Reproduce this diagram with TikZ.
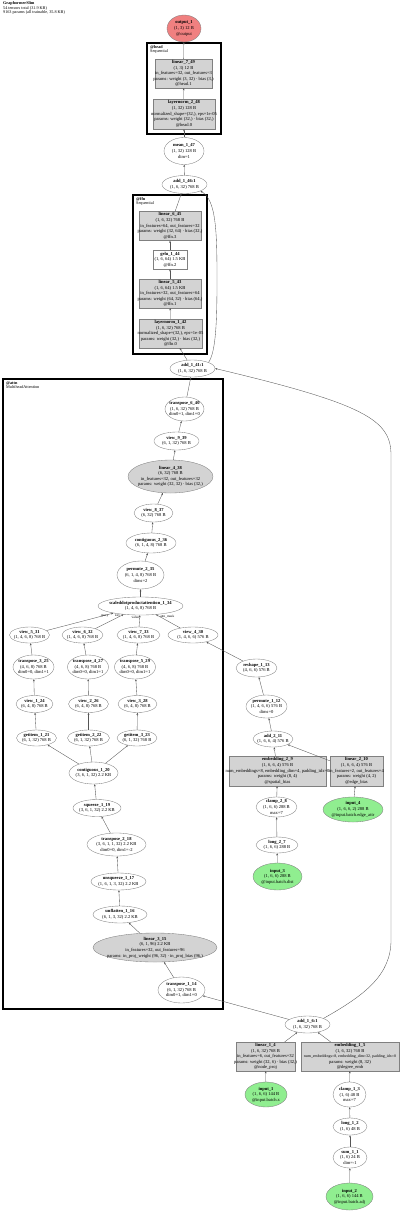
\documentclass[tikz,border=0pt]{standalone}
\usepackage{fontspec}
\setmainfont{Liberation Serif}
\usetikzlibrary{arrows.meta,shapes.geometric}
\definecolor{opgray}{HTML}{D3D3D3}
\definecolor{ingreen}{HTML}{90EE90}
\definecolor{outred}{HTML}{F08080}
\definecolor{edgegray}{HTML}{555555}
\begin{document}
\begin{tikzpicture}[x=1pt, y=-1pt,
  nodetext/.style={font=\fontsize{4.55}{5.6}\selectfont, align=center, inner sep=0pt},
  txt/.style={label={[nodetext]center:{#1}}},
  ell/.style={draw=gray, ellipse, inner sep=0pt, line width=0.35pt},
  opbox/.style={draw=gray, fill=opgray, inner sep=0pt, line width=0.35pt},
  plainbox/.style={draw=gray, inner sep=0pt, line width=0.35pt},
  gell/.style={ell, fill=opgray},
  inell/.style={ell, fill=ingreen},
  outell/.style={ell, fill=outred},
  grp/.style={draw=black, line width=1.3pt},
  grplbl/.style={font=\fontsize{4.2}{4.5}\selectfont, align=left, anchor=north west, inner sep=0pt},
  elbl/.style={font=\fontsize{3.4}{3.8}\selectfont, inner sep=0.5pt},
  arr/.style={-{Stealth[length=2.2pt,width=1.8pt]}, draw=edgegray, line width=0.35pt},
]
\useasboundingbox (0,0) rectangle (400,1211);

\node[grplbl] (title) at (3,1.5) {\textbf{GraphormerSlim}\\54 tensors total (31.9 KB)\\9163 params (all trainable, 35.8 KB)};

% module boxes
\draw[grp] (147,43) rectangle (221,134);
\node[grplbl] (headlbl) at (150,45) {\textbf{@head}\\Sequential};
\draw[grp] (133,195) rectangle (207,354);
\node[grplbl] (ffnlbl) at (136,197) {\textbf{@ffn}\\Sequential};
\draw[grp] (3,379) rectangle (223,1009);
\node[grplbl] (attnlbl) at (6,381) {\textbf{@attn}\\MultiheadAttention};

% head
\node[outell, minimum width=34, minimum height=27, txt={\textbf{output\_1}\\(1, 3) 12 B\\@output}] (out1) at (184,28.5) {};
\node[opbox, minimum width=57, minimum height=29, txt={\textbf{linear\_7\_49}\\(1, 3) 12 B\\in\_features=32, out\_features=3\\params: weight (3, 32) · bias (3,)\\@head.1}] (lin749) at (183.5,73.5) {};
\node[opbox, minimum width=62, minimum height=30, txt={\textbf{layernorm\_2\_48}\\(1, 32) 128 B\\normalized\_shape=(32,), eps=1e-05\\params: weight (32,) · bias (32,)\\@head.0}] (ln248) at (184,114) {};
\node[ell, minimum width=40, minimum height=27, txt={\textbf{mean\_1\_47}\\(1, 32) 128 B\\dim=1}] (mean147) at (184,151) {};
\node[ell, minimum width=45, minimum height=18, txt={\textbf{add\_1\_46:1}\\(1, 6, 32) 768 B}] (add146) at (184.5,184.5) {};

% ffn
\node[opbox, minimum width=62, minimum height=29, txt={\textbf{linear\_6\_45}\\(1, 6, 32) 768 B\\in\_features=64, out\_features=32\\params: weight (32, 64) · bias (32,)\\@ffn.3}] (lin645) at (170,226) {};
\node[plainbox, minimum width=34, minimum height=19, txt={\textbf{gelu\_1\_44}\\(1, 6, 64) 1.5 KB\\@ffn.2}] (gelu144) at (170,259.5) {};
\node[opbox, minimum width=62, minimum height=29, txt={\textbf{linear\_5\_43}\\(1, 6, 64) 1.5 KB\\in\_features=32, out\_features=64\\params: weight (64, 32) · bias (64,)\\@ffn.1}] (lin543) at (170,293.5) {};
\node[opbox, minimum width=63, minimum height=29, txt={\textbf{layernorm\_1\_42}\\(1, 6, 32) 768 B\\normalized\_shape=(32,), eps=1e-05\\params: weight (32,) · bias (32,)\\@ffn.0}] (ln142) at (170.5,333.5) {};
\node[ell, minimum width=45, minimum height=17, txt={\textbf{add\_1\_41:1}\\(1, 6, 32) 768 B}] (add141) at (192.5,368.5) {};

% attention
\node[ell, minimum width=39, minimum height=24, txt={\textbf{transpose\_6\_40}\\(1, 6, 32) 768 B\\dim0=1, dim1=0}] (tr640) at (184.5,409) {};
\node[ell, minimum width=45, minimum height=18, txt={\textbf{view\_9\_39}\\(6, 1, 32) 768 B}] (v939) at (176.5,441) {};
\node[gell, minimum width=85, minimum height=33, txt={\textbf{linear\_4\_38}\\(6, 32) 768 B\\in\_features=32, out\_features=32\\params: weight (32, 32) · bias (32,)}] (lin438) at (170.5,476.5) {};
\node[ell, minimum width=39, minimum height=18, txt={\textbf{view\_8\_37}\\(6, 32) 768 B}] (v837) at (153.5,513) {};
\node[ell, minimum width=50, minimum height=20, txt={\textbf{contiguous\_2\_36}\\(6, 1, 4, 8) 768 B}] (cont236) at (151,543) {};
\node[ell, minimum width=47, minimum height=28, txt={\textbf{permute\_2\_35}\\(6, 1, 4, 8) 768 B\\dims=2}] (perm235) at (140.5,575) {};
\node[ell, minimum width=85, minimum height=18, txt={\textbf{scaleddotproductattention\_1\_34}\\(1, 4, 6, 8) 768 B}] (sdpa) at (140.5,606) {};
\node[ell, minimum width=40, minimum height=16, txt={\textbf{view\_5\_31}\\(1, 4, 6, 8) 768 B}] (v531) at (29.5,635) {};
\node[ell, minimum width=41, minimum height=16, txt={\textbf{view\_6\_32}\\(1, 4, 6, 8) 768 B}] (v632) at (82.5,635) {};
\node[ell, minimum width=43, minimum height=16, txt={\textbf{view\_7\_33}\\(1, 4, 6, 8) 768 B}] (v733) at (138.5,635) {};
\node[ell, minimum width=50, minimum height=16, txt={\textbf{view\_4\_30}\\(1, 4, 6, 6) 576 B}] (v430) at (193,635) {};
\node[ell, minimum width=41, minimum height=24, txt={\textbf{transpose\_3\_25}\\(4, 6, 8) 768 B\\dim0=0, dim1=1}] (tr325) at (33.5,667) {};
\node[ell, minimum width=41, minimum height=24, txt={\textbf{transpose\_4\_27}\\(4, 6, 8) 768 B\\dim0=0, dim1=1}] (tr427) at (88,667) {};
\node[ell, minimum width=41, minimum height=24, txt={\textbf{transpose\_5\_29}\\(4, 6, 8) 768 B\\dim0=0, dim1=1}] (tr529) at (135,667) {};
\node[ell, minimum width=37, minimum height=17, txt={\textbf{view\_1\_24}\\(6, 4, 8) 768 B}] (v124) at (34.5,704) {};
\node[ell, minimum width=40, minimum height=17, txt={\textbf{view\_2\_26}\\(6, 4, 8) 768 B}] (v226) at (88.5,704) {};
\node[ell, minimum width=39, minimum height=17, txt={\textbf{view\_3\_28}\\(6, 4, 8) 768 B}] (v328) at (137.5,704) {};
\node[ell, minimum width=40, minimum height=16, txt={\textbf{getitem\_1\_21}\\(6, 1, 32) 768 B}] (gi121) at (36.5,738) {};
\node[ell, minimum width=42, minimum height=16, txt={\textbf{getitem\_2\_22}\\(6, 1, 32) 768 B}] (gi222) at (88.5,738) {};
\node[ell, minimum width=40, minimum height=16, txt={\textbf{getitem\_3\_23}\\(6, 1, 32) 768 B}] (gi323) at (137,738) {};
\node[ell, minimum width=49, minimum height=22, txt={\textbf{contiguous\_1\_20}\\(3, 6, 1, 32) 2.2 KB}] (cont120) at (93.5,773) {};
\node[ell, minimum width=48, minimum height=17, txt={\textbf{squeeze\_1\_19}\\(3, 6, 1, 32) 2.2 KB}] (sq119) at (97,808) {};
\node[ell, minimum width=59, minimum height=23, txt={\textbf{transpose\_2\_18}\\(3, 6, 1, 1, 32) 2.2 KB\\dim0=0, dim1=-2}] (tr218) at (116.5,844.5) {};
\node[ell, minimum width=55, minimum height=17, txt={\textbf{unsqueeze\_1\_17}\\(1, 6, 1, 3, 32) 2.2 KB}] (unsq117) at (118.5,881.5) {};
\node[ell, minimum width=54, minimum height=17, txt={\textbf{unflatten\_1\_16}\\(6, 1, 3, 32) 2.2 KB}] (unfl116) at (120,914.5) {};
\node[gell, minimum width=124, minimum height=29, txt={\textbf{linear\_3\_15}\\(6, 1, 96) 2.2 KB\\in\_features=32, out\_features=96\\params: in\_proj\_weight (96, 32) · in\_proj\_bias (96,)}] (lin315) at (155,947.5) {};
\node[ell, minimum width=47, minimum height=26, txt={\textbf{transpose\_1\_14}\\(6, 1, 32) 768 B\\dim0=1, dim1=0}] (tr114) at (181.5,990) {};

% attention bias
\node[ell, minimum width=41, minimum height=18, txt={\textbf{reshape\_1\_13}\\(4, 6, 6) 576 B}] (resh113) at (256.5,668) {};
\node[ell, minimum width=41, minimum height=23, txt={\textbf{permute\_1\_12}\\(1, 4, 6, 6) 576 B\\dims=0}] (perm112) at (266.5,706.5) {};
\node[ell, minimum width=40, minimum height=16, txt={\textbf{add\_2\_11}\\(1, 6, 6, 4) 576 B}] (add211) at (273,739) {};
\node[opbox, minimum width=97, minimum height=30, txt={\textbf{embedding\_2\_9}\\(1, 6, 6, 4) 576 B\\num\_embeddings=8, embedding\_dim=4, padding\_idx=0\\params: weight (8, 4)\\@spatial\_bias}] (emb29) at (277.5,771) {};
\node[opbox, minimum width=53, minimum height=30, txt={\textbf{linear\_2\_10}\\(1, 6, 6, 4) 576 B\\in\_features=2, out\_features=4\\params: weight (4, 2)\\@edge\_bias}] (lin210) at (356.5,771) {};
\node[ell, minimum width=41, minimum height=20, txt={\textbf{clamp\_2\_8}\\(1, 6, 6) 288 B\\max=7}] (clamp28) at (276.5,807) {};
\node[inell, minimum width=60, minimum height=25, txt={\textbf{input\_4}\\(1, 6, 6, 2) 288 B\\@input.batch.edge\_attr}] (in4) at (353,809.5) {};
\node[ell, minimum width=42, minimum height=16, txt={\textbf{long\_2\_7}\\(1, 6, 6) 288 B}] (long27) at (277,845) {};
\node[inell, minimum width=49, minimum height=27, txt={\textbf{input\_3}\\(1, 6, 6) 288 B\\@input.batch.dist}] (in3) at (277.5,876.5) {};

% embeddings
\node[ell, minimum width=45, minimum height=17, txt={\textbf{add\_1\_6:1}\\(1, 6, 32) 768 B}] (add16) at (307.5,1024.5) {};
\node[opbox, minimum width=59, minimum height=29, txt={\textbf{linear\_1\_4}\\(1, 6, 32) 768 B\\in\_features=6, out\_features=32\\params: weight (32, 6) · bias (32,)\\@node\_proj}] (lin14) at (265.5,1056.5) {};
\node[opbox, minimum width=98, minimum height=29, txt={\textbf{embedding\_1\_5}\\(1, 6, 32) 768 B\\{\fontsize{3.95}{5.6}\selectfont num\_embeddings=8, embedding\_dim=32, padding\_idx=0}\\params: weight (8, 32)\\@degree\_emb}] (emb15) at (350,1056.5) {};
\node[inell, minimum width=42, minimum height=25, txt={\textbf{input\_1}\\(1, 6, 6) 144 B\\@input.batch.x}] (in1) at (266,1094.5) {};
\node[ell, minimum width=33, minimum height=25, txt={\textbf{clamp\_1\_3}\\(1, 6) 48 B\\max=7}] (clamp13) at (349.5,1094.5) {};
\node[ell, minimum width=34, minimum height=17, txt={\textbf{long\_1\_2}\\(1, 6) 48 B}] (long12) at (350,1126.5) {};
\node[ell, minimum width=34, minimum height=21, txt={\textbf{sum\_1\_1}\\(1, 6) 24 B\\dim=-1}] (sum11) at (350,1157.5) {};
\node[inell, minimum width=47, minimum height=27, txt={\textbf{input\_2}\\(1, 6, 6) 144 B\\@input.batch.adj}] (in2) at (349.5,1196.5) {};

\foreach \a/\b in {lin749/out1, ln248/lin749, mean147/ln248, add146/mean147, lin645/add146,
  gelu144/lin645, lin543/gelu144, ln142/lin543, add141/ln142, tr640/add141, v939/tr640,
  lin438/v939, v837/lin438, cont236/v837, perm235/cont236, sdpa/perm235,
  tr325/v531, tr427/v632, tr529/v733, resh113/v430, v124/tr325, v226/tr427, v328/tr529,
  gi121/v124, gi222/v226, gi323/v328, cont120/gi121, cont120/gi222, cont120/gi323,
  sq119/cont120, tr218/sq119, unsq117/tr218, unfl116/unsq117, lin315/unfl116, tr114/lin315,
  add16/tr114, perm112/resh113, add211/perm112, emb29/add211, lin210/add211, clamp28/emb29,
  long27/clamp28, in3/long27, in4/lin210, lin14/add16, emb15/add16, in1/lin14,
  clamp13/emb15, long12/clamp13, sum11/long12, in2/sum11}
  \draw[arr] (\a) -- (\b);

\draw[arr] (v531) -- node[elbl, pos=0.93, below left=-0.5pt] {query} (sdpa);
\draw[arr] (v632) -- node[elbl, pos=0.9, left] {key} (sdpa);
\draw[arr] (v733) -- node[elbl, pos=0.8, left] {value} (sdpa);
\draw[arr] (v430) -- node[elbl, pos=0.85, right] {attn\_mask} (sdpa);

% residual paths
\draw[arr] (add141.north east) .. controls (216,352) and (217,320) .. (217,280)
  .. controls (217,230) and (216,200) .. (add146.south east);
\draw[arr] (add16.north east) .. controls (365,995) and (391,975) .. (391,940)
  -- (391,455) .. controls (391,420) and (365,404) .. (add141.east);
\end{tikzpicture}
\end{document}
